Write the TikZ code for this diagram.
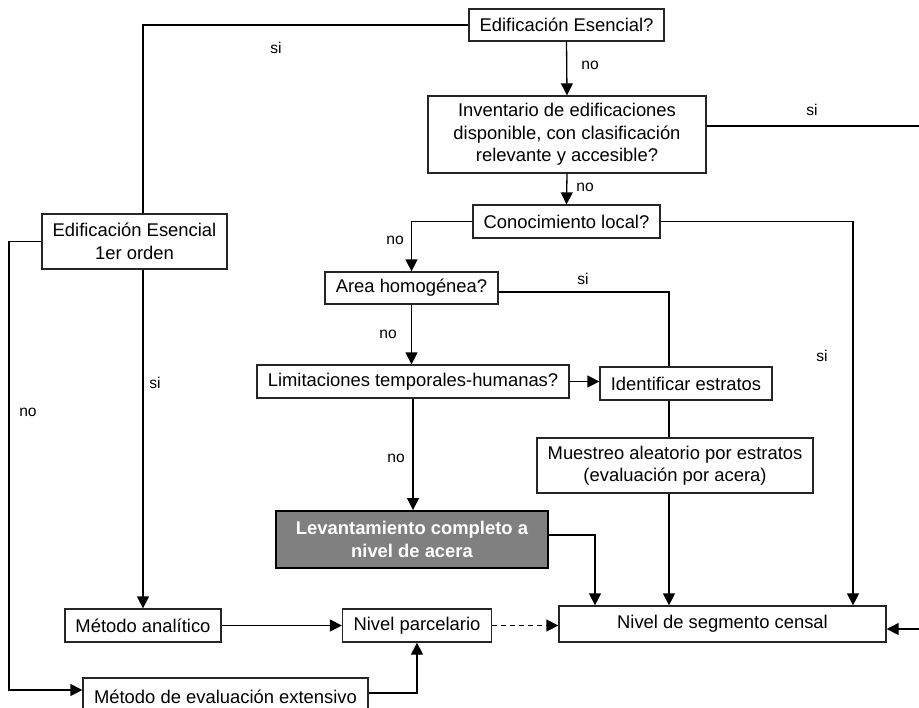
\documentclass[tikz,border=0pt]{standalone}
\usepackage{fontspec}
\setmainfont{Liberation Sans}
\usetikzlibrary{arrows.meta}

\begin{document}
\begin{tikzpicture}[x=0.5pt, y=-0.5pt,
 box/.style={rectangle, draw=black!85, line width=0.65pt, align=center, inner sep=2pt, font=\fontsize{9.2}{11.25}\selectfont},
 dark/.style={box, fill=black!50, draw=black, line width=1pt, text=white, font=\fontsize{9.2}{11.25}\selectfont\bfseries},
 lab/.style={font=\fontsize{7.8}{9}\selectfont, inner sep=0pt},
 line/.style={line width=0.65pt},
 arr/.style={line, -{Triangle[length=6pt,width=6pt]}},
 darr/.style={arr, dash pattern=on 2.5pt off 2pt},
]
\useasboundingbox (0,0) rectangle (919,707);
\clip (0,0) rectangle (919,707);
\node[box, minimum width=97.5pt, minimum height=16pt] (ee) at (566.5,25) {Edificación Esencial?};
\node[box, minimum width=139pt, minimum height=38.5pt] (inv) at (567,134.5) {Inventario de edificaciones\\disponible, con clasificación\\relevante y accesible?};
\node[box, minimum width=93.5pt, minimum height=16.5pt] (con) at (566.5,221.5) {Conocimiento local?};
\node[box, minimum width=92.5pt, minimum height=27.5pt] (ee1) at (134.5,241.5) {Edificación Esencial\\1er orden};
\node[box, minimum width=86.5pt, minimum height=16pt] (area) at (411.5,288) {Area homogénea?};
\node[box, minimum width=156pt, minimum height=16.5pt] (lim) at (413,381.5) {Limitaciones temporales-humanas?};
\node[box, minimum width=86pt, minimum height=16.5pt] (ide) at (686,383.5) {Identificar estratos};
\node[box, minimum width=138pt, minimum height=27.5pt] (mue) at (675,465.5) {Muestreo aleatorio por estratos\\(evaluación por acera)};
\node[dark, minimum width=136pt, minimum height=28.5pt] (lev) at (412,539.5) {Levantamiento completo a\\nivel de acera};
\node[box, minimum width=78pt, minimum height=16.5pt] (ma) at (143,625.5) {Método analítico};
\node[box, minimum width=74.5pt, minimum height=16.5pt] (np) at (417,625.5) {Nivel parcelario};
\node[box, minimum width=163.5pt, minimum height=18pt] (nsc) at (722.5,624) {\strut Nivel de segmento censal};
\node[box, minimum width=142.5pt, minimum height=19pt] (me) at (225.5,697) {Método de evaluación extensivo};

\coordinate (rtop) at (919,126);
\coordinate (rbot) at (919,629);
\coordinate (cx) at (853,224);
\coordinate (ax) at (669,292);
\coordinate (lx) at (595,535);
\coordinate (lm) at (9,690);
\coordinate (mx) at (417,693);

\draw[line] (ee.west) -| (ma.north |- ee1.north);
\draw[arr] (ee.south) -- (inv.north);
\draw[line] (inv.east |- rtop) -- (rtop);
\draw[arr] (rbot) -- (nsc.east |- rbot);
\draw[arr] (inv.south) -- (con.north);
\draw[arr] (con.west) -| (area.north);
\draw[arr] (con.east) -| (cx |- nsc.north);
\draw[line] (area.east |- ax) -| (ide.north -| ax);
\draw[arr] (area.south) -- (area.south |- lim.north);
\draw[arr] (lim.east) -- (lim.east -| ide.west);
\draw[arr] (lim.south) -- (lim.south |- lev.north);
\draw[line] (ide.south -| ax) -- (mue.north -| ax);
\draw[arr] (mue.south -| ax) -- (nsc.north -| ax);
\draw[arr] (lev.east |- lx) -| (lx |- nsc.north);
\draw[arr] (ee1.south -| ma.north) -- (ma.north);
\draw[arr] (ee1.west) -| (lm) -- (me.west |- lm);
\draw[arr] (ma.east) -- (ma.east -| np.west);
\draw[arr] (me.east |- mx) -| (np.south);
\draw[darr] (np.east) -- (np.east -| nsc.west);

\node[lab] (l1) at (276,48) {si};
\node[lab] (l2) at (590,65) {no};
\node[lab] (l3) at (812,110) {si};
\node[lab] (l4) at (585,187) {no};
\node[lab] (l5) at (395,240) {no};
\node[lab] (l6) at (583,279) {si};
\node[lab] (l7) at (388,334) {no};
\node[lab] (l8) at (822,356) {si};
\node[lab] (l9) at (396,458) {no};
\node[lab] (l10) at (155,383) {si};
\node[lab] (l11) at (28,412) {no};
\end{tikzpicture}
\end{document}
